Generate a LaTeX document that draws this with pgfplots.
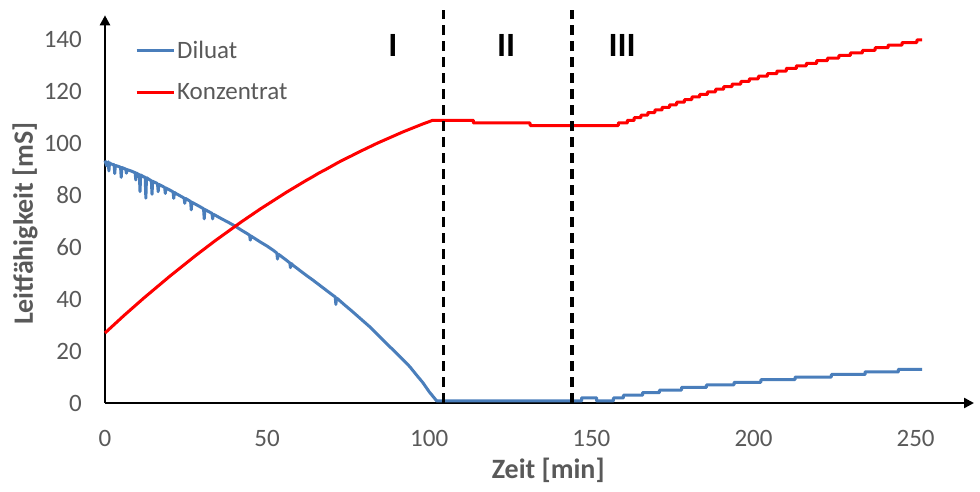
\documentclass[border=0pt]{standalone}
\usepackage{fontspec}
\setmainfont{Carlito}
\usepackage{pgfplots}
\pgfplotsset{compat=1.18}
\usetikzlibrary{arrows.meta}
\definecolor{diluat}{RGB}{74,126,187}
\definecolor{konz}{RGB}{255,0,0}
\definecolor{ticktext}{RGB}{89,89,89}

\begin{document}
\begin{tikzpicture}
\begin{axis}[
  at={(0pt,0pt)}, anchor=south west,
  width=869pt, height=387.7pt, scale only axis,
  xmin=0, xmax=268, ymin=0, ymax=149.5,
  axis lines=left,
  axis line style={line width=2.4pt, -{Triangle[width=10pt,length=10pt]}},
  xtick={0,50,...,250}, ytick={0,20,...,140},
  major tick length=0pt,
  tick label style={font=\fontsize{25}{30}\selectfont, text=ticktext},
  /pgf/number format/assume math mode=true,
  xticklabel style={anchor=center, yshift=-35pt},
  yticklabel style={anchor=east, inner sep=0pt, xshift=-23pt},
  xlabel={Zeit [min]}, ylabel={Leitfähigkeit [mS]},
  label style={font=\fontsize{28}{33}\selectfont\bfseries, text=ticktext},
  xlabel style={at={(axis description cs:0.51,-0.173)}, anchor=center},
  ylabel style={at={(axis description cs:-0.092,0.463)}, anchor=center},
  clip=false,
  legend style={draw=none, fill=none, at={(axis description cs:0.0345,0.94)},
    anchor=north west, font=\fontsize{25}{30}\selectfont, text=ticktext,
    row sep=20pt, inner sep=0pt, nodes={inner sep=2pt}},
  legend cell align=left,
  legend image code/.code={\draw[#1] (0pt,0pt) -- (37pt,0pt);},
]

% Diluat
\addplot[diluat, line width=3pt, line join=round] coordinates {
(0,93.5) (0.5,91.5) (1.0,93) (1.2,89.5) (1.4,92.6) (2,92.1) (2.8,91.9) (3.0,88.5) (3.2,91.6)
(4,91.3) (4.8,90.9) (5.0,87.0) (5.2,90.8) (6,90.4) (6.4,90.2) (6.6,88.6) (6.8,90.0)
(8,89.5) (9.3,88.8) (9.5,86.0) (9.7,88.7) (10,88.4) (10.6,88.0) (10.8,81.5) (11.0,87.9)
(12,87.2) (12.4,87.0) (12.6,79.0) (12.8,86.9) (14,85.9) (14.3,85.7) (14.5,80.5) (14.7,85.5)
(16,84.7) (16.2,84.5) (16.4,81.5) (16.6,84.3) (18,83.4) (18.4,83.1) (18.6,80.8) (18.8,82.9)
(20,82.1) (21,81.4) (21.2,78.9) (21.4,81.2) (22,80.7) (24,79.3) (24.4,79.0) (24.6,77.0) (24.8,78.9)
(26,78.0) (26.4,77.7) (26.6,74.5) (26.8,77.4) (28,76.6) (30,75.2) (30.4,74.9) (30.6,71.0) (30.8,74.6)
(32,73.8) (33,73.1) (33.2,71.0) (33.4,72.8) (34,72.4) (36,71.0) (38,69.7) (40,68.3) (42,66.7)
(44,65.2) (44.6,64.7) (44.8,62.8) (45.0,64.4) (46,63.6) (48,62.0) (50,60.5) (52,58.8)
(53,57.8) (53.2,55.5) (53.4,57.4) (54,56.9) (56,55.0) (57,54.0) (57.2,52.2) (57.4,53.8)
(58,53.1) (60,51.2) (62,49.3) (64,47.5) (66,45.6) (68,43.7) (70,41.8) (71,40.9) (71.2,38.0) (71.4,40.5)
(72,39.9) (74,37.7) (76,35.6) (78,33.4) (80,31.2) (82,29.0) (84,26.5) (86,24.0) (88,21.5)
(90,19.1) (92,16.6) (94,14.0) (96,10.9) (98,7.9) (100,4.3) (102.3,0.8)
(147,0.8) (147,2) (151.6,2) (151.6,0.8) (156.8,0.8) (156.8,2) (159.9,2) (159.9,3)
(165.8,3) (165.8,4) (171.0,4) (171.0,5) (177.8,5) (177.8,6) (185.5,6) (185.5,7)
(194.0,7) (194.0,8) (202.3,8) (202.3,9) (212.8,9) (212.8,10) (224.0,10) (224.0,11)
(234.4,11) (234.4,12) (244.7,12) (244.7,13) (252,13)
};
\addlegendentry{Diluat}

% Konzentrat
\addplot[konz, line width=3pt, line join=round] coordinates {
(0,27.0) (2,29.3) (4,31.6) (6,33.9) (8,36.1) (10,38.3) (12,40.5) (14,42.6) (16,44.7) (18,46.8)
(20,48.9) (22,50.9) (24,52.9) (26,54.9) (28,56.9) (30,58.8) (32,60.7) (34,62.6) (36,64.4) (38,66.2)
(40,68.0) (42,69.8) (44,71.5) (46,73.2) (48,74.9) (50,76.5) (52,78.1) (54,79.7) (56,81.3) (58,82.8)
(60,84.3) (62,85.8) (64,87.2) (66,88.7) (68,90.0) (70,91.4) (72,92.8) (74,94.1) (76,95.3) (78,96.6)
(80,97.8) (82,99.0) (84,100.2) (86,101.3) (88,102.4) (90,103.5) (92,104.6) (94,105.6) (96,106.6)
(98,107.6) (100,108.5) (101,109)
(113.6,109) (113.6,108) (131.1,108) (131.1,107) (158.3,107) (158.3,108)
(161.1,108) (161.1,109) (163.2,109) (163.2,110) (165.3,110) (165.3,111) (167.4,111) (167.4,112)
(169.6,112) (169.6,113) (171.8,113) (171.8,114) (174.1,114) (174.1,115) (176.3,115) (176.3,116)
(178.7,116) (178.7,117) (181.0,117) (181.0,118) (183.4,118) (183.4,119) (185.8,119) (185.8,120)
(188.3,120) (188.3,121) (190.8,121) (190.8,122) (193.4,122) (193.4,123) (196.1,123) (196.1,124)
(198.7,124) (198.7,125) (201.5,125) (201.5,126) (204.3,126) (204.3,127) (207.2,127) (207.2,128)
(210.1,128) (210.1,129) (213.2,129) (213.2,130) (216.3,130) (216.3,131) (219.5,131) (219.5,132)
(222.8,132) (222.8,133) (226.3,133) (226.3,134) (229.9,134) (229.9,135) (233.6,135) (233.6,136)
(237.5,136) (237.5,137) (241.5,137) (241.5,138) (245.8,138) (245.8,139) (250.4,139) (250.4,140)
(252,140)
};
\addlegendentry{Konzentrat}

% phase boundaries
\addplot[black, line width=3.2pt, dash pattern=on 10pt off 6pt, forget plot]
  coordinates {(104.5,0) (104.5,151.5)};
\addplot[black, line width=3.2pt, dash pattern=on 10pt off 6pt, forget plot]
  coordinates {(144,0) (144,151.5)};

\node[font=\fontsize{34}{40}\selectfont\bfseries] at (axis cs:88.8,138) {I};
\node[font=\fontsize{34}{40}\selectfont\bfseries] at (axis cs:123.7,138) {II};
\node[font=\fontsize{34}{40}\selectfont\bfseries] at (axis cs:159.5,138) {III};
\end{axis}
\pgfresetboundingbox
\path[use as bounding box] (-105pt,-88pt) rectangle (875pt,403pt);
\end{tikzpicture}
\end{document}
